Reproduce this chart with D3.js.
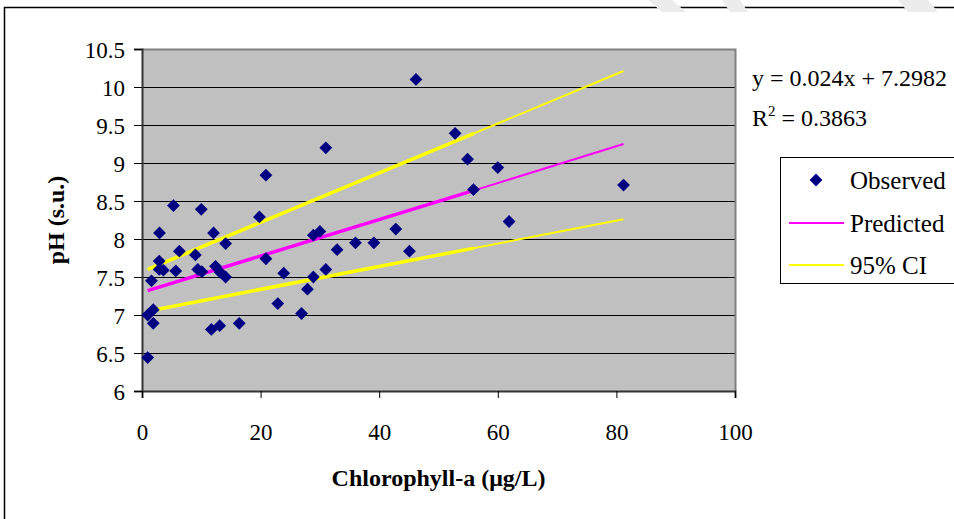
<!DOCTYPE html>
<html>
<head>
<meta charset="utf-8">
<script src="https://cdn.jsdelivr.net/npm/d3@7"></script>
<style>
  body { margin: 0; background: #fff; }
  text { font-family: "Liberation Serif", "Times New Roman", serif; fill: #000; }
</style>
</head>
<body>
<script>
// observed samples: chlorophyll-a (ug/L) vs pH (s.u.)
var chlA = [0.96, 0.96, 1.9, 1.9, 1.6, 2.9, 2.9, 3.6, 2.95, 5.3, 5.7, 6.3, 9.0, 9.4, 10.0, 10.1,
            12.06, 12.4, 13.2, 14.1, 14.1, 11.7, 13.1, 16.4, 19.8, 20.9, 20.9, 22.9, 23.9, 26.9,
            27.9, 28.9, 28.9, 30.0, 31.0, 31.0, 32.9, 36.0, 39.1, 42.8, 45.1, 46.2, 52.8, 54.9,
            55.9, 60.0, 61.9, 81.2];
var pH = [6.44, 7.0, 7.07, 6.89, 7.45, 7.71, 7.6, 7.59, 8.08, 8.44, 7.58, 7.84, 7.79, 7.6, 8.39, 7.57,
          8.08, 7.64, 7.56, 7.5, 7.94, 6.81, 6.86, 6.89, 8.29, 7.74, 8.84, 7.15, 7.55, 7.02,
          7.34, 7.5, 8.05, 8.1, 7.6, 9.2, 7.86, 7.95, 7.95, 8.13, 7.84, 10.1, 9.39, 9.05,
          8.65, 8.94, 8.23, 8.71];

// fitted line and 95% band read at start, mid and end
var fitX = [0.96, 56, 81.2];
var predicted = [7.32, 8.64, 9.25];
var ciUpper = [7.60, 9.39, 10.21];
var ciLower = [7.05, 7.88, 8.26];

var xTicks = [0, 20, 40, 60, 80, 100];
var yTicks = [6, 6.5, 7, 7.5, 8, 8.5, 9, 9.5, 10, 10.5];
var legendItems = ["Observed", "Predicted", "95% CI"];

var W = 954, H = 519;
var svg = d3.select("body").append("svg").attr("width", W).attr("height", H);

// outer chart frame (clipped on right and bottom)
svg.append("rect").attr("x", 4.5).attr("y", 7.5).attr("width", 1000).attr("height", 600)
  .attr("fill", "none").attr("stroke", "#000").attr("stroke-width", 1.5);

// faint watermark strokes at the top
[[648, 672, 686, 662], [722, 740, 748, 730], [898, 928, 938, 908]].forEach(function(p){
  svg.append("polygon")
    .attr("points", p[0] + ",0 " + p[1] + ",0 " + p[2] + ",12 " + p[3] + ",12")
    .attr("fill", "#ececec");
});

var x = d3.scaleLinear().domain([0, 100]).range([142, 735]);
var y = d3.scaleLinear().domain([6, 10.5]).range([391, 49]);

svg.append("rect").attr("x", x(0)).attr("y", y(10.5))
  .attr("width", x(100) - x(0)).attr("height", y(6) - y(10.5)).attr("fill", "#c0c0c0");

// gridlines
svg.append("g").selectAll("line").data(yTicks.filter(function(t){ return t > 6 && t < 10.5; }))
  .enter().append("line")
  .attr("x1", x(0)).attr("x2", x(100))
  .attr("y1", function(d){ return Math.round(y(d)) + 0.5; })
  .attr("y2", function(d){ return Math.round(y(d)) + 0.5; })
  .attr("stroke", "#000").attr("stroke-width", 1.2);

// plot border top/right
svg.append("path")
  .attr("d", "M" + x(0) + "," + (y(10.5) + 0.5) + "H" + (x(100) + 0.5) + "V" + y(6))
  .attr("fill", "none").attr("stroke", "#808080").attr("stroke-width", 2);

// axes
var yAxis = d3.axisLeft(y).tickValues(yTicks).tickSize(8).tickPadding(9)
  .tickFormat(function(d){ return d; });
var gy = svg.append("g").attr("transform", "translate(" + x(0) + ",0)").call(yAxis);
var xAxis = d3.axisBottom(x).tickValues(xTicks).tickSize(7).tickPadding(26);
var gx = svg.append("g").attr("transform", "translate(0," + y(6) + ")").call(xAxis);
[gx, gy].forEach(function(g){
  g.select(".domain").attr("stroke", "#333").attr("stroke-width", 2);
  g.selectAll(".tick line").attr("stroke", "#000");
  g.selectAll("text").style("font-family", "Liberation Serif").style("font-size", "23px")
    .attr("fill", "#000");
});
gy.selectAll(".tick text").attr("dy", "0.35em");

// axis titles
svg.append("text").attr("x", (x(0) + x(100)) / 2).attr("y", 486)
  .attr("text-anchor", "middle").style("font-size", "24px").style("font-weight", "bold")
  .text("Chlorophyll-a (\u03bcg/L)");
svg.append("text").attr("transform", "translate(64," + (y(8.25)) + ") rotate(-90)")
  .attr("text-anchor", "middle").style("font-size", "24px").style("font-weight", "bold")
  .text("pH (s.u.)");

// lines: thicker on the dense part, thinner beyond
var line = d3.line().x(function(d){ return x(d[0]); }).y(function(d){ return y(d[1]); });
function drawSeries(vals, color){
  var pts = fitX.map(function(v, i){ return [v, vals[i]]; });
  svg.append("path").datum(pts.slice(0, 2)).attr("d", line)
    .attr("fill", "none").attr("stroke", color).attr("stroke-width", 3.5);
  svg.append("path").datum(pts.slice(1)).attr("d", line)
    .attr("fill", "none").attr("stroke", color).attr("stroke-width", 2);
}
drawSeries(ciUpper, "#ffff00");
drawSeries(ciLower, "#ffff00");
drawSeries(predicted, "#ff00ff");

// observed diamonds
var diamond = d3.symbol().type(d3.symbolSquare).size(82);
svg.append("g").selectAll("path").data(chlA).enter().append("path")
  .attr("d", diamond)
  .attr("transform", function(d, i){ return "translate(" + x(d) + "," + y(pH[i]) + ") rotate(45)"; })
  .attr("fill", "#000080");

// equation
var eq = svg.append("g").style("font-size", "24px");
eq.append("text").attr("x", 752).attr("y", 86).text("y = 0.024x + 7.2982");
var r2 = eq.append("text").attr("x", 752).attr("y", 126);
r2.append("tspan").text("R");
r2.append("tspan").attr("dy", -10).style("font-size", "15px").text("2");
r2.append("tspan").attr("dy", 10).text(" = 0.3863");

// legend
var lg = svg.append("g");
lg.append("rect").attr("x", 780.5).attr("y", 157.5).attr("width", 200).attr("height", 126)
  .attr("fill", "#fff").attr("stroke", "#000").attr("stroke-width", 1);
var rowY = [180, 223, 265];
legendItems.forEach(function(name, i){
  if (i === 0) {
    lg.append("path").attr("d", diamond)
      .attr("transform", "translate(816," + rowY[i] + ") rotate(45)").attr("fill", "#000080");
  } else {
    lg.append("line").attr("x1", 789).attr("x2", 844).attr("y1", rowY[i]).attr("y2", rowY[i])
      .attr("stroke", i === 1 ? "#ff00ff" : "#ffff00").attr("stroke-width", 2);
  }
  lg.append("text").attr("x", 850).attr("y", rowY[i]).attr("dy", "0.35em")
    .style("font-size", "25px").text(name);
});
</script>
</body>
</html>
